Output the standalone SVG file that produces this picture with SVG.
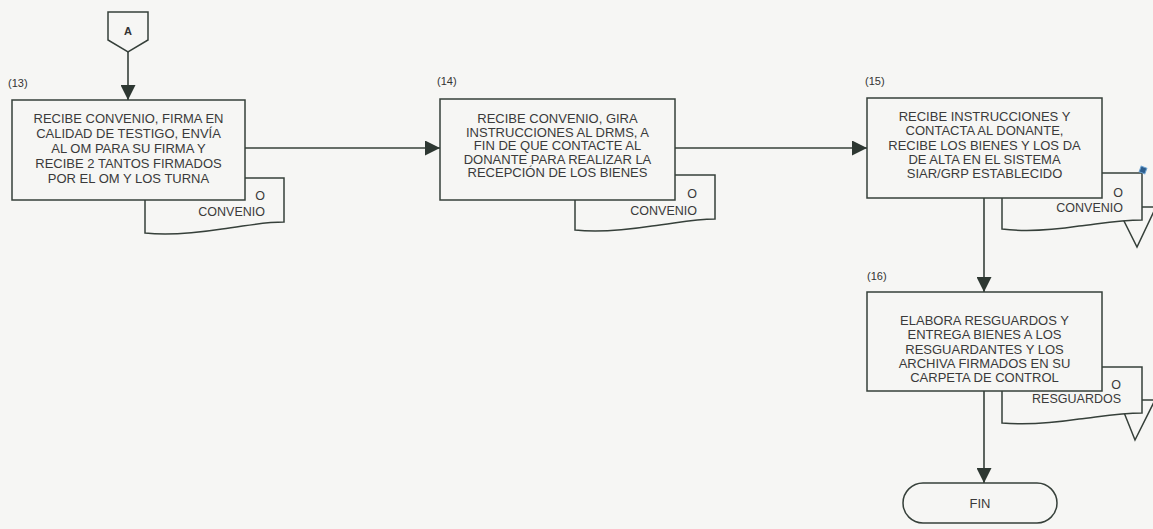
<svg xmlns="http://www.w3.org/2000/svg" width="1153" height="529" viewBox="0 0 1153 529">
<defs>
<style>
.bg{fill:#f6f6f4}
.sh{fill:#f6f6f4;stroke:#36403a;stroke-width:1.5}
.ln{fill:none;stroke:#36403a;stroke-width:1.6}
.t{font-family:"Liberation Sans",Arial,sans-serif;font-size:13px;fill:#3a3a3a;text-anchor:middle}
.d{font-family:"Liberation Sans",Arial,sans-serif;font-size:12.5px;fill:#3a3a3a;text-anchor:end}
.n{font-family:"Liberation Sans",Arial,sans-serif;font-size:11px;fill:#333}
</style>
<marker id="ah" markerUnits="userSpaceOnUse" markerWidth="15" markerHeight="15" refX="15" refY="7.5" orient="auto">
<path d="M0,0 L15,7.5 L0,15 Z" fill="#2e3832"/>
</marker>
</defs>
<rect class="bg" x="0" y="0" width="1153" height="529"/>

<g id="connectors">
<line class="ln" x1="128" y1="52" x2="128" y2="100" marker-end="url(#ah)"/>
<line class="ln" x1="245" y1="148" x2="440" y2="148" marker-end="url(#ah)"/>
<line class="ln" x1="675" y1="148" x2="867" y2="148" marker-end="url(#ah)"/>
<line class="ln" x1="984" y1="198" x2="984" y2="292" marker-end="url(#ah)"/>
<line class="ln" x1="984" y1="391" x2="984" y2="483" marker-end="url(#ah)"/>
</g>

<g id="connA">
<path class="sh" d="M108,12 H148 V40 L128,52 L108,40 Z"/>
<text class="n" x="128" y="35" text-anchor="middle" font-weight="bold">A</text>
</g>

<g id="doc13">
<path class="sh" d="M145,178 H284 V222 C262,222 246,226 222,229 C196,233 170,236 145,233 Z"/>
<text class="d" x="265" y="199.5">O</text>
<text class="d" x="265" y="216">CONVENIO</text>
</g>
<g id="step13">
<text class="n" x="8" y="87">(13)</text>
<rect class="sh" x="12" y="100" width="233" height="100"/>
<text class="t" x="128.5" y="123">RECIBE CONVENIO, FIRMA EN</text>
<text class="t" x="128.5" y="138">CALIDAD DE TESTIGO, ENVÍA</text>
<text class="t" x="128.5" y="153">AL OM PARA SU FIRMA Y</text>
<text class="t" x="128.5" y="168">RECIBE 2 TANTOS FIRMADOS</text>
<text class="t" x="128.5" y="183">POR EL OM Y LOS TURNA</text>
</g>

<g id="doc14">
<path class="sh" d="M575,175 H715 V219 C693,219 677,223 652,226 C626,230 600,233 575,230 Z"/>
<text class="d" x="697" y="197.5">O</text>
<text class="d" x="697" y="214.5">CONVENIO</text>
</g>
<g id="step14">
<text class="n" x="437" y="85">(14)</text>
<rect class="sh" x="440" y="99" width="235" height="101"/>
<text class="t" x="557.5" y="123">RECIBE CONVENIO, GIRA</text>
<text class="t" x="557.5" y="136.5">INSTRUCCIONES AL DRMS, A</text>
<text class="t" x="557.5" y="150">FIN DE QUE CONTACTE AL</text>
<text class="t" x="557.5" y="163.5">DONANTE PARA REALIZAR LA</text>
<text class="t" x="557.5" y="177">RECEPCIÓN DE LOS BIENES</text>
</g>

<g id="merge15">
<path class="sh" d="M1117,207 H1156 L1137,247 Z"/>
</g>
<g id="doc15">
<path class="sh" d="M1002,173 H1142 V220 C1120,220 1104,223 1079,226 C1053,230 1027,232 1002,229 Z"/>
<text class="d" x="1123" y="196.5">O</text>
<text class="d" x="1123" y="211.5">CONVENIO</text>
<rect x="1140" y="167" width="6" height="6" fill="#2d5d8c" stroke="#6aa0d0" stroke-width="1" transform="rotate(20 1143 170)"/>
</g>
<g id="step15">
<text class="n" x="865" y="85">(15)</text>
<rect class="sh" x="867" y="98" width="235" height="100"/>
<text class="t" x="984.5" y="121">RECIBE INSTRUCCIONES Y</text>
<text class="t" x="984.5" y="135">CONTACTA AL DONANTE,</text>
<text class="t" x="984.5" y="149.5">RECIBE LOS BIENES Y LOS DA</text>
<text class="t" x="984.5" y="163.5">DE ALTA EN EL SISTEMA</text>
<text class="t" x="984.5" y="177.5">SIAR/GRP ESTABLECIDO</text>
</g>

<g id="merge16">
<path class="sh" d="M1119,400 H1155 L1135,440 Z"/>
</g>
<g id="doc16">
<path class="sh" d="M1002,367 H1142 V413 C1120,413 1104,416 1079,419 C1053,423 1027,425 1002,423 Z"/>
<text class="d" x="1121" y="388.5">O</text>
<text class="d" x="1121" y="402.5">RESGUARDOS</text>
</g>
<g id="step16">
<text class="n" x="867" y="280">(16)</text>
<rect class="sh" x="867" y="292" width="235" height="99"/>
<text class="t" x="984.5" y="324.5">ELABORA RESGUARDOS Y</text>
<text class="t" x="984.5" y="339">ENTREGA BIENES A LOS</text>
<text class="t" x="984.5" y="353.5">RESGUARDANTES Y LOS</text>
<text class="t" x="984.5" y="367.5">ARCHIVA FIRMADOS EN SU</text>
<text class="t" x="984.5" y="381.5">CARPETA DE CONTROL</text>
</g>

<g id="fin">
<rect class="sh" x="903" y="483" width="154" height="40" rx="20" ry="20"/>
<text class="t" x="980" y="508" font-size="12">FIN</text>
</g>
</svg>
